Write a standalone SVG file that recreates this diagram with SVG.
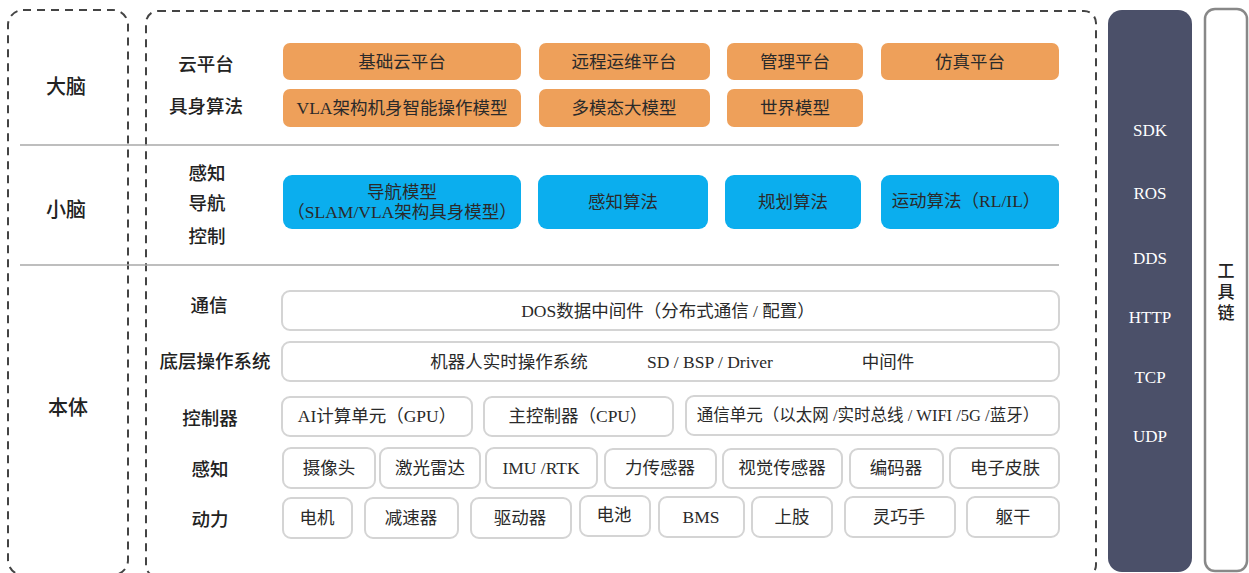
<svg xmlns="http://www.w3.org/2000/svg" width="1249" height="573" viewBox="0 0 1249 573">
<style>
.dash{fill:none;stroke:#444;stroke-width:2;stroke-dasharray:8,6}
.sep{stroke:#a8a8a8;stroke-width:1.5}
.or{fill:#EEA05A}
.bl{fill:#0BAEEE}
.wb{fill:#fff;stroke:#d4d4d4;stroke-width:2}
.t{font-family:"Liberation Serif","Noto Sans CJK SC",serif;font-size:17.5px;fill:#2a2a2a;text-anchor:middle;dominant-baseline:central}
.lab{font-family:"Noto Sans CJK SC",sans-serif;font-size:18.5px;font-weight:500;fill:#222;text-anchor:middle;dominant-baseline:central}
.tc{font-family:"Noto Sans CJK SC",sans-serif;font-size:17px;font-weight:500;fill:#222;text-anchor:middle;writing-mode:vertical-rl;letter-spacing:4px}
.big{font-family:"Noto Sans CJK SC",sans-serif;font-size:20px;font-weight:500;fill:#222;text-anchor:middle;dominant-baseline:central}
.w{font-family:"Liberation Serif",serif;font-size:17px;fill:#fff;text-anchor:middle;dominant-baseline:central}
</style>
<rect width="1249" height="573" fill="#fff"/>
<g id="left-frame">
<rect class="dash" x="8" y="10" width="120" height="565" rx="15"/>
<text class="big" x="66" y="85">大脑</text>
<text class="big" x="66" y="208">小脑</text>
<text class="big" x="68" y="406">本体</text>
</g>
<g id="main-frame">
<rect class="dash" x="146" y="11" width="950" height="566" rx="12"/>
</g>
<g id="separators">
<line class="sep" x1="20" y1="145" x2="1059" y2="145"/>
<line class="sep" x1="20" y1="265" x2="1059" y2="265"/>
</g>
<g id="row-labels">
<text class="lab" x="206" y="63">云平台</text>
<text class="lab" x="206" y="105">具身算法</text>
<text class="lab" x="207" y="172">感知</text>
<text class="lab" x="207" y="202">导航</text>
<text class="lab" x="207" y="235">控制</text>
<text class="lab" x="209" y="304">通信</text>
<text class="lab" x="215" y="360">底层操作系统</text>
<text class="lab" x="210" y="417">控制器</text>
<text class="lab" x="210" y="468">感知</text>
<text class="lab" x="210" y="518">动力</text>
</g>
<g id="brain">
<g id="n-cloud"><rect class="or" x="283" y="43" width="238" height="37" rx="7"/><text class="t" x="402" y="62">基础云平台</text></g>
<g id="n-ops"><rect class="or" x="539" y="43" width="171" height="37" rx="7"/><text class="t" x="624" y="62">远程运维平台</text></g>
<g id="n-mgmt"><rect class="or" x="727" y="43" width="136" height="37" rx="7"/><text class="t" x="795" y="62">管理平台</text></g>
<g id="n-sim"><rect class="or" x="881" y="43" width="178" height="37" rx="7"/><text class="t" x="970" y="62">仿真平台</text></g>
<g id="n-vla"><rect class="or" x="283" y="89" width="238" height="38" rx="7"/><text class="t" x="402" y="108">VLA架构机身智能操作模型</text></g>
<g id="n-mm"><rect class="or" x="539" y="89" width="171" height="38" rx="7"/><text class="t" x="624" y="108">多模态大模型</text></g>
<g id="n-world"><rect class="or" x="727" y="89" width="136" height="38" rx="7"/><text class="t" x="795" y="108">世界模型</text></g>
</g>
<g id="cerebellum">
<g id="n-nav"><rect class="bl" x="283" y="175" width="238" height="54" rx="9"/><text class="t" x="402" y="192">导航模型</text><text class="t" x="402" y="212">（SLAM/VLA架构具身模型）</text></g>
<g id="n-perc"><rect class="bl" x="538" y="175" width="170" height="54" rx="9"/><text class="t" x="623" y="202">感知算法</text></g>
<g id="n-plan"><rect class="bl" x="725" y="175" width="136" height="54" rx="9"/><text class="t" x="793" y="202">规划算法</text></g>
<g id="n-motion"><rect class="bl" x="881" y="175" width="178" height="54" rx="9"/><text class="t" x="966" y="201">运动算法（RL/IL）</text></g>
</g>
<g id="body">
<g id="n-dos"><rect class="wb" x="282" y="291" width="777" height="39" rx="8"/><text class="t" x="668" y="311">DOS数据中间件（分布式通信 / 配置）</text></g>
<g id="n-os"><rect class="wb" x="282" y="342" width="777" height="39" rx="8"/><text class="t" x="509" y="362">机器人实时操作系统</text><text class="t" x="710" y="362">SD / BSP / Driver</text><text class="t" x="888" y="362">中间件</text></g>
<g id="n-ai"><rect class="wb" x="282" y="397" width="190" height="39" rx="8"/><text class="t" x="377" y="416">AI计算单元（GPU）</text></g>
<g id="n-cpu"><rect class="wb" x="484" y="397" width="189" height="39" rx="8"/><text class="t" x="578" y="416">主控制器（CPU）</text></g>
<g id="n-comm"><rect class="wb" x="686" y="396" width="373" height="39" rx="8"/><text class="t" x="868" y="415" style="font-size:16.5px">通信单元（以太网 /实时总线 / WIFI /5G /蓝牙）</text></g>
<g id="n-cam"><rect class="wb" x="283" y="448" width="92" height="40" rx="8"/><text class="t" x="329" y="468">摄像头</text></g>
<g id="n-lidar"><rect class="wb" x="380" y="448" width="100" height="40" rx="8"/><text class="t" x="430" y="468">激光雷达</text></g>
<g id="n-imu"><rect class="wb" x="486" y="448" width="111" height="40" rx="8"/><text class="t" x="541" y="468">IMU /RTK</text></g>
<g id="n-force"><rect class="wb" x="605" y="449" width="111" height="39" rx="8"/><text class="t" x="660" y="468">力传感器</text></g>
<g id="n-vision"><rect class="wb" x="723" y="449" width="119" height="39" rx="8"/><text class="t" x="782" y="468">视觉传感器</text></g>
<g id="n-enc"><rect class="wb" x="850" y="449" width="93" height="39" rx="8"/><text class="t" x="896" y="468">编码器</text></g>
<g id="n-skin"><rect class="wb" x="950" y="448" width="109" height="40" rx="8"/><text class="t" x="1005" y="468">电子皮肤</text></g>
<g id="n-motor"><rect class="wb" x="283" y="498" width="69" height="40" rx="8"/><text class="t" x="317" y="518">电机</text></g>
<g id="n-reducer"><rect class="wb" x="365" y="498" width="93" height="40" rx="8"/><text class="t" x="411" y="518">减速器</text></g>
<g id="n-driver"><rect class="wb" x="471" y="498" width="100" height="40" rx="8"/><text class="t" x="520" y="518">驱动器</text></g>
<g id="n-battery"><rect class="wb" x="580" y="496" width="70" height="40" rx="8"/><text class="t" x="614" y="515">电池</text></g>
<g id="n-bms"><rect class="wb" x="659" y="497" width="85" height="40" rx="8"/><text class="t" x="701" y="517">BMS</text></g>
<g id="n-arm"><rect class="wb" x="752" y="497" width="80" height="40" rx="8"/><text class="t" x="792" y="517">上肢</text></g>
<g id="n-hand"><rect class="wb" x="845" y="497" width="110" height="40" rx="8"/><text class="t" x="899" y="517">灵巧手</text></g>
<g id="n-torso"><rect class="wb" x="967" y="497" width="92" height="40" rx="8"/><text class="t" x="1013" y="517">躯干</text></g>
</g>
<g id="protocols">
<rect x="1108" y="10" width="84" height="562" rx="14" fill="#4B5069"/>
<text class="w" x="1150" y="130">SDK</text>
<text class="w" x="1150" y="193">ROS</text>
<text class="w" x="1150" y="258">DDS</text>
<text class="w" x="1150" y="317">HTTP</text>
<text class="w" x="1150" y="377">TCP</text>
<text class="w" x="1150" y="436">UDP</text>
</g>
<g id="toolchain">
<rect x="1205" y="9" width="42" height="562" rx="10" fill="#fff" stroke="#888" stroke-width="2.5"/>
<text class="tc" x="1226" y="294">工具链</text>
</g>
<g id="connectors"/>
</svg>
